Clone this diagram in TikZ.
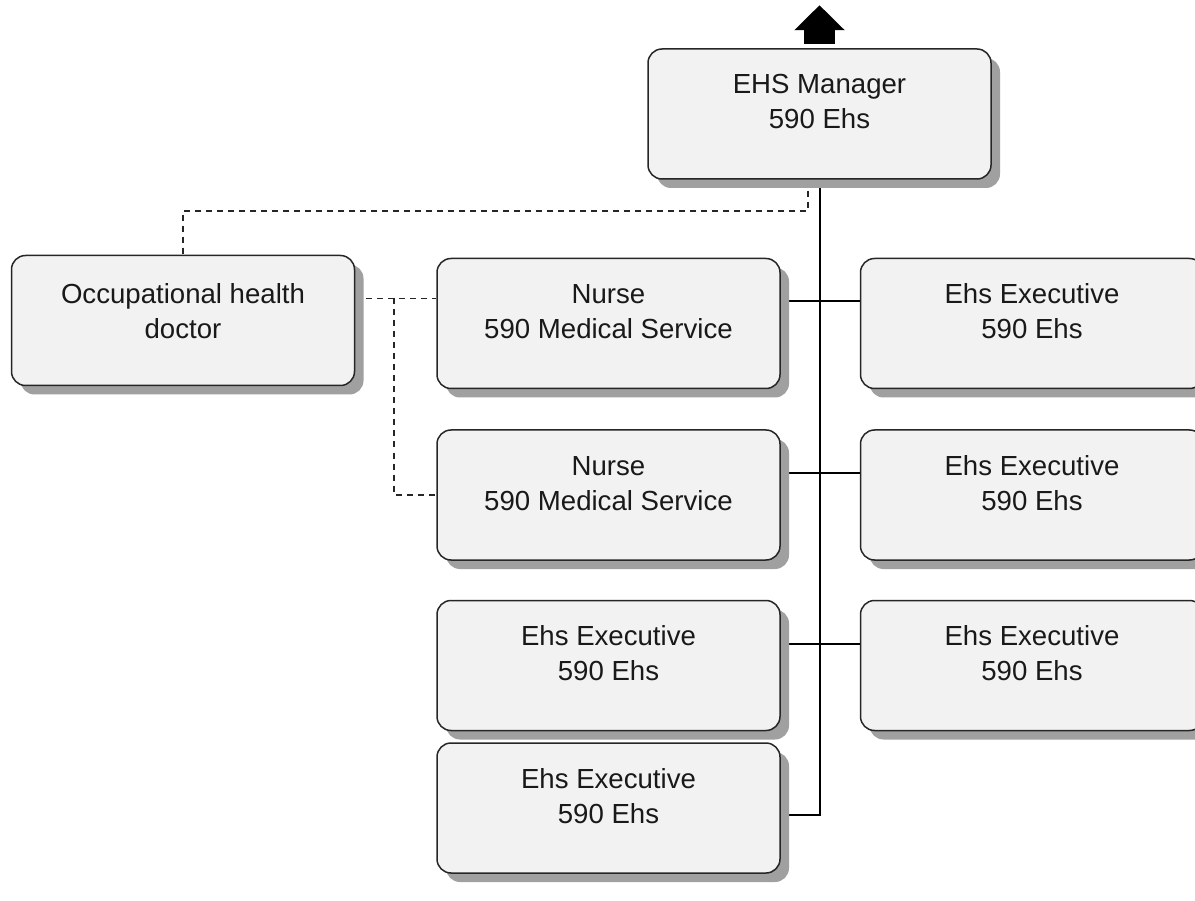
\documentclass[tikz,border=0pt]{standalone}
\usepackage{fontspec}
\setmainfont{Liberation Sans}
\usetikzlibrary{positioning,shadows,arrows.meta,backgrounds}

\definecolor{boxfill}{HTML}{F2F2F2}
\definecolor{boxline}{HTML}{262626}
\definecolor{shadowgray}{HTML}{A0A0A0}

\tikzset{
  rolebox/.style={draw=boxline, line width=1.5pt, fill=boxfill, rounded corners=14pt,
    minimum width=343pt, minimum height=130pt, align=center,
    font=\fontsize{27.6}{35}\selectfont, text=black!90,
    text height=55pt, text depth=25pt,
    drop shadow={shadow xshift=9pt, shadow yshift=-9pt, fill=shadowgray, opacity=1}},
  reportline/.style={line width=2pt, black},
  adviceline/.style={line width=1.9pt, black!85, dash pattern=on 6pt off 5pt},
}

\begin{document}
\begin{tikzpicture}
 \useasboundingbox (0pt,0pt) rectangle (1195pt,-901pt);
 \node[rolebox] (mgr) at (819.5pt,-114pt) {EHS Manager\\590 Ehs};
 \node[rolebox, below=78pt of mgr, xshift=-211pt] (nurse1) {Nurse\\590 Medical Service};
 \node[rolebox, right=79pt of nurse1] (exec1) {Ehs Executive\\590 Ehs};
 \node[rolebox, below=40pt of nurse1] (nurse2) {Nurse\\590 Medical Service};
 \node[rolebox, right=79pt of nurse2] (exec2) {Ehs Executive\\590 Ehs};
 \node[rolebox, below=39pt of nurse2] (exec3) {Ehs Executive\\590 Ehs};
 \node[rolebox, right=79pt of exec3] (exec4) {Ehs Executive\\590 Ehs};
 \node[rolebox, below=11pt of exec3] (exec5) {Ehs Executive\\590 Ehs};
 \node[rolebox, left=81pt of nurse1, yshift=3pt, text depth=19pt] (doctor) {Occupational health\\doctor};
 % arrow to the level above
 \coordinate (up) at ([yshift=43pt]mgr.north);
 \draw[line width=31pt, -{Triangle[width=49pt,length=25pt]}] ([yshift=4pt]mgr.north) -- (up);
 \begin{pgfonlayer}{background}
  \draw[reportline] (mgr.south) |- ([yshift=-7pt]exec5.east);
  \draw[reportline] ([yshift=22pt]nurse1.east) -- ([yshift=22pt]exec1.west);
  \draw[reportline] ([yshift=22pt]nurse2.east) -- ([yshift=22pt]exec2.west);
  \draw[reportline] ([yshift=22pt]exec3.east) -- ([yshift=22pt]exec4.west);
  % dotted reporting
  \draw[adviceline] ([xshift=-11.5pt]mgr.south) -- ++(0,-31pt) -| (doctor.north);
  \draw[adviceline] ([yshift=22pt]doctor.east) -- ([yshift=25pt]nurse1.west);
  \draw[adviceline] ([xshift=39pt,yshift=22pt]doctor.east) |- (nurse2.west);
 \end{pgfonlayer}
\end{tikzpicture}
\end{document}
